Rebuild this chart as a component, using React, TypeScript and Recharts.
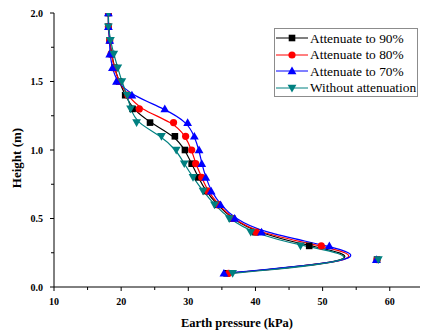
import { LineChart, Line, XAxis, YAxis, Legend } from 'recharts'

const heights = [0.1, 0.2, 0.3, 0.4, 0.5, 0.6, 0.7, 0.8, 0.9, 1.0, 1.1, 1.2, 1.3, 1.4, 1.5, 1.6, 1.7, 1.8, 1.9, 2.0]

const att90 = [35.7, 58.1, 48.0, 40.0, 36.5, 34.3, 32.6, 31.5, 30.5, 29.5, 28.0, 24.3, 21.7, 20.6, 19.7, 19.0, 18.6, 18.3, 18.1, 18.1]
const att80 = [36.0, 58.1, 49.8, 40.1, 36.6, 34.5, 32.9, 32.0, 31.1, 30.5, 29.6, 27.8, 22.7, 21.0, 19.6, 19.0, 18.5, 18.3, 18.1, 18.1]
const att70 = [35.3, 58.0, 51.0, 40.9, 36.9, 34.8, 33.4, 32.6, 32.0, 31.6, 30.9, 29.9, 26.5, 21.6, 19.3, 18.7, 18.3, 18.3, 18.1, 18.1]
const noAtt = [36.6, 58.3, 46.7, 39.3, 36.1, 33.9, 32.2, 30.7, 29.4, 28.2, 26.0, 22.3, 21.4, 20.9, 20.1, 19.5, 18.9, 18.4, 18.1, 18.1]

const xTicks = [10, 15, 20, 25, 30, 35, 40, 45, 50, 55, 60]
const yTicks = [0, 0.25, 0.5, 0.75, 1.0, 1.25, 1.5, 1.75, 2.0]

const series = [
  { name: 'Attenuate to 90%', values: att90, color: '#000000', shape: 'square' },
  { name: 'Attenuate to 80%', values: att80, color: '#ff0000', shape: 'circle' },
  { name: 'Attenuate to 70%', values: att70, color: '#0000ff', shape: 'up' },
  { name: 'Without attenuation', values: noAtt, color: '#008080', shape: 'down' },
]

const serif = '"Liberation Serif", "Times New Roman", serif'

const toRows = (values: number[]) => values.map((p, i) => ({ p, h: heights[i] }))

function Marker({ shape, cx, cy, color }: { shape: string; cx: number; cy: number; color: string }) {
  if (shape === 'square') return <rect x={cx - 3.3} y={cy - 3.3} width={6.6} height={6.6} fill={color} />
  if (shape === 'circle') return <circle cx={cx} cy={cy} r={3.6} fill={color} />
  const s = 4.4
  if (shape === 'up') return <polygon points={`${cx},${cy - s} ${cx - s},${cy + s * 0.75} ${cx + s},${cy + s * 0.75}`} fill={color} />
  return <polygon points={`${cx},${cy + s} ${cx - s},${cy - s * 0.75} ${cx + s},${cy - s * 0.75}`} fill={color} />
}

// tickSize 4 + tickMargin 6 -> label sits 10px off the axis
const XTick = ({ x, y, payload }: any) => {
  const major = payload.value % 10 === 0
  return (
    <g>
      <line x1={x} x2={x} y1={y - 10} y2={y - 10 + (major ? 4 : 3)} stroke="#000" />
      {major && (
        <text x={x} y={y} dy="0.8em" textAnchor="middle" fontFamily={serif} fontWeight="bold" fontSize={10} fill="#000">
          {payload.value}
        </text>
      )}
    </g>
  )
}

// tickSize 4 + tickMargin 7
const YTick = ({ x, y, payload }: any) => {
  const major = Math.abs((payload.value * 2) % 1) < 1e-6
  return (
    <g>
      <line x1={x + 11} x2={x + 11 - (major ? 4 : 3)} y1={y} y2={y} stroke="#000" />
      {major && (
        <text x={x} y={y} dy="0.35em" textAnchor="end" fontFamily={serif} fontWeight="bold" fontSize={10} fill="#000">
          {payload.value.toFixed(1)}
        </text>
      )}
    </g>
  )
}

const YTitle = ({ viewBox }: any) => {
  const cx = viewBox.x + 16
  const cy = viewBox.y + viewBox.height / 2 + 8
  return (
    <text x={cx} y={cy} transform={`rotate(-90 ${cx} ${cy})`} textAnchor="middle" dominantBaseline="central"
      fontFamily={serif} fontWeight="bold" fontSize={13} fill="#000">
      Height (m)
    </text>
  )
}

const XTitle = ({ viewBox }: any) => (
  <text x={viewBox.x + viewBox.width / 2} y={viewBox.y + 36} textAnchor="middle" dominantBaseline="central"
    fontFamily={serif} fontWeight="bold" fontSize={12.5} fill="#000">
    Earth pressure (kPa)
  </text>
)

const LegendBox = () => (
  <div style={{ border: '1px solid #8c8c8c', background: '#fff', padding: '1px 2px 0 1px', width: 139 }}>
    {series.map((s) => (
      <div key={s.name} style={{ display: 'flex', alignItems: 'center', height: 16.5 }}>
        <svg width={32} height={12} style={{ flex: 'none' }}>
          <line x1={0} x2={32} y1={6} y2={6} stroke={s.color} />
          <Marker shape={s.shape} cx={16} cy={6} color={s.color} />
        </svg>
        <span style={{ marginLeft: 2, fontFamily: serif, fontSize: 13.4, color: '#000', whiteSpace: 'nowrap', lineHeight: 1 }}>
          {s.name}
        </span>
      </div>
    ))}
  </div>
)

export default function App() {
  return (
    <div style={{ position: 'absolute', left: 0, top: 0, background: '#fff' }}>
      <LineChart width={421} height={332} margin={{ top: 13, right: 1, bottom: 0, left: 0 }}>
        <XAxis
          type="number"
          dataKey="p"
          domain={[10, 64.5]}
          ticks={xTicks}
          interval={0}
          allowDataOverflow
          stroke="#000"
          height={45}
          tickSize={4}
          tickMargin={6}
          tickLine={false}
          tick={<XTick />}
          label={<XTitle />}
        />
        <YAxis
          type="number"
          dataKey="h"
          domain={[0, 2]}
          ticks={yTicks}
          interval={0}
          allowDataOverflow
          stroke="#000"
          width={54}
          tickSize={4}
          tickMargin={7}
          tickLine={false}
          tick={<YTick />}
          label={<YTitle />}
        />
        <Legend
          layout="vertical"
          align="center"
          verticalAlign="middle"
          content={<LegendBox />}
          wrapperStyle={{ top: 28, left: 274, width: 'auto' }}
        />
        {series.map((s) => (
          <Line
            key={s.name}
            name={s.name}
            data={toRows(s.values)}
            dataKey="h"
            type="basis"
            stroke={s.color}
            strokeWidth={1.2}
            isAnimationActive={false}
            activeDot={false}
            dot={(d: any) => <Marker key={`${s.name}-${d.index}`} shape={s.shape} cx={d.cx} cy={d.cy} color={s.color} />}
          />
        ))}
      </LineChart>
    </div>
  )
}
